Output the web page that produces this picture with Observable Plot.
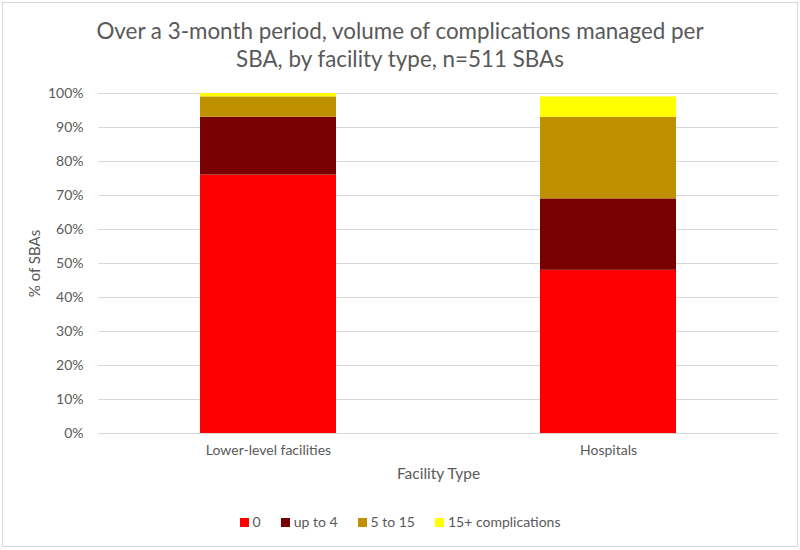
<!DOCTYPE html>
<html>
<head>
<meta charset="utf-8">
<script src="https://cdn.jsdelivr.net/npm/d3@7"></script>
<script src="https://cdn.jsdelivr.net/npm/@observablehq/plot@0.6"></script>
<style>
  body { margin: 0; background: #fff; font-family: Lato, "Open Sans", sans-serif; }
  #frame { position: absolute; left: 2px; top: 2px; width: 794px; height: 543px; border: 1px solid #d9d9d9; pointer-events: none; }
  #title { width: 800px; height: 80px; box-sizing: border-box; padding-top: 17px; text-align: center; color: #595959; font-size: 22.4px; line-height: 28px; }
  #legend { width: 800px; display: flex; justify-content: center; gap: 20px; color: #595959; font-size: 14px; margin-top: 23px; }
  #legend span.sw { display: inline-block; width: 9px; height: 9px; margin-right: 4px; vertical-align: middle; position: relative; top: -1px; }
</style>
</head>
<body>
<div id="frame"></div>
<div id="title">Over a 3-month period, volume of complications managed per<br>SBA, by facility type, n=511 SBAs</div>
<div id="chart"></div>
<div id="legend"></div>
<script>
const facilities = ["Lower-level facilities", "Hospitals"];
const series = ["0", "up to 4", "5 to 15", "15+ complications"];
const colors = ["#ff0000", "#780000", "#bf9000", "#ffff00"];
const lowerLevel = [76, 17, 6, 1];
const hospitals = [48, 21, 24, 6];
const yTicks = [0, 10, 20, 30, 40, 50, 60, 70, 80, 90, 100];

const valuesByFacility = [lowerLevel, hospitals];
const data = [];
series.forEach((s, si) => {
  facilities.forEach((f, fi) => {
    data.push({facility: f, series: s, value: valuesByFacility[fi][si]});
  });
});

const chart = Plot.plot({
  width: 800,
  height: 410,
  marginTop: 13,
  marginBottom: 57,
  marginLeft: 98,
  marginRight: 22,
  style: {fontFamily: "Lato, 'Open Sans', sans-serif", fontSize: "14px", color: "#595959"},
  x: {domain: facilities, paddingInner: 0.6, paddingOuter: 0.3, label: null},
  y: {domain: [0, 100], label: null},
  color: {domain: series, range: colors},
  marks: [
    Plot.gridY(yTicks, {stroke: "#d9d9d9", strokeOpacity: 1}),
    Plot.barY(data, {x: "facility", y: "value", fill: "series", order: series}),
    Plot.ruleY([0], {stroke: "#d9d9d9", strokeOpacity: 1}),
    Plot.axisY(yTicks, {tickSize: 0, tickPadding: 15, tickFormat: d => d + "%", fill: "#595959", fontSize: 14, label: null}),
    Plot.axisX({tickSize: 0, tickPadding: 12, fill: "#595959", fontSize: 14, label: null}),
    Plot.text(["% of SBAs"], {frameAnchor: "left", textAnchor: "middle", rotate: -90, dx: -63, fontSize: 15, fill: "#595959"}),
    Plot.text(["Facility Type"], {frameAnchor: "bottom", dy: 45, fontSize: 15.5, fill: "#595959"})
  ]
});
document.getElementById("chart").appendChild(chart);

const legend = document.getElementById("legend");
series.forEach((s, i) => {
  const item = document.createElement("div");
  item.innerHTML = `<span class="sw" style="background:${colors[i]}"></span>${s}`;
  legend.appendChild(item);
});
</script>
</body>
</html>
